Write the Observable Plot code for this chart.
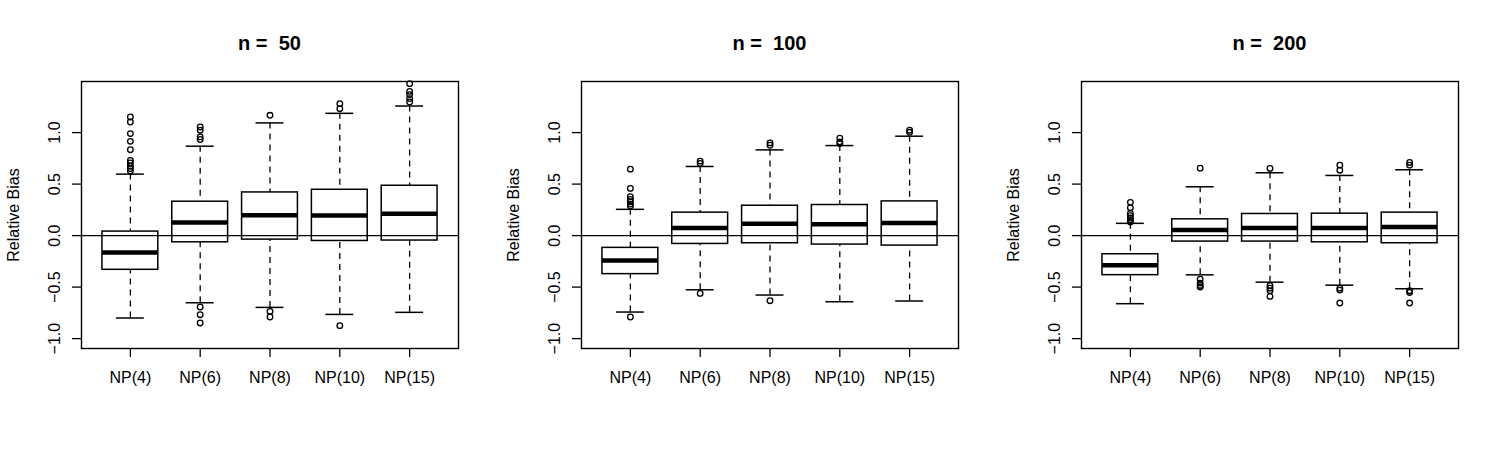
<!DOCTYPE html>
<html>
<head>
<meta charset="utf-8">
<script src="https://cdn.jsdelivr.net/npm/d3@7"></script>
<script src="https://cdn.jsdelivr.net/npm/@observablehq/plot@0.6"></script>
<style>
  html, body { margin: 0; padding: 0; background: #fff; }
  body { font-family: "Liberation Sans", Arial, Helvetica, sans-serif; color: #000; }
  #row { display: flex; width: 1500px; height: 450px; overflow: hidden; }
  .panel { width: 500px; height: 450px; position: relative; }
  .title { position: absolute; top: 31px; left: 81px; width: 377px; text-align: center;
           font-weight: bold; font-size: 20px; line-height: 24px; white-space: pre; }
  .chart { position: absolute; top: 60px; left: 0; }
</style>
</head>
<body>
<div id="row"></div>
<script>
// ---- data ----
const categories = ["NP(4)", "NP(6)", "NP(8)", "NP(10)", "NP(15)"];
const sampleSizes = [50, 100, 200];
const yTicks = [-1, -0.5, 0, 0.5, 1];

// one row per panel (n = 50, 100, 200), one value per category
const lowerWhisker = [
  [-0.800, -0.652, -0.697, -0.765, -0.745],
  [-0.742, -0.526, -0.577, -0.642, -0.635],
  [-0.661, -0.381, -0.452, -0.481, -0.516]
];
const q1 = [
  [-0.332, -0.065, -0.039, -0.052, -0.048],
  [-0.374, -0.081, -0.074, -0.087, -0.097],
  [-0.384, -0.058, -0.058, -0.065, -0.074]
];
const median = [
  [-0.165, 0.126, 0.197, 0.194, 0.213],
  [-0.242, 0.074, 0.116, 0.110, 0.123],
  [-0.287, 0.055, 0.074, 0.074, 0.084]
];
const q3 = [
  [0.039, 0.329, 0.419, 0.445, 0.484],
  [-0.119, 0.223, 0.290, 0.297, 0.332],
  [-0.181, 0.158, 0.210, 0.213, 0.223]
];
const upperWhisker = [
  [0.597, 0.868, 1.094, 1.187, 1.258],
  [0.255, 0.671, 0.832, 0.874, 0.965],
  [0.119, 0.474, 0.610, 0.584, 0.639]
];
const outliers = [
  [
    [1.152, 1.103, 0.990, 0.915, 0.834, 0.730, 0.705, 0.673, 0.651, 0.627],
    [1.055, 1.023, 0.958, 0.933, -0.693, -0.768, -0.848],
    [1.168, -0.736, -0.790],
    [1.281, 1.232, -0.874],
    [1.475, 1.400, 1.369, 1.330, 1.297]
  ],
  [
    [0.645, 0.458, 0.377, 0.352, 0.329, 0.306, 0.287, -0.790],
    [0.723, 0.700, -0.561],
    [0.900, 0.877, -0.632],
    [0.945, 0.910, 0.894],
    [1.023, 1.003]
  ],
  [
    [0.323, 0.271, 0.216, 0.194, 0.171, 0.152, 0.132],
    [0.655, -0.423, -0.461, -0.484, -0.500],
    [0.652, -0.487, -0.510, -0.535, -0.590],
    [0.684, 0.635, -0.510, -0.529, -0.655],
    [0.710, 0.684, -0.535, -0.552, -0.655]
  ]
];
const yLimits = [-1, 1.4];

// ---- drawing ----
const row = document.getElementById("row");
const ext = (yLimits[1] - yLimits[0]) * 0.04;
const yDomain = [yLimits[0] - ext, yLimits[1] + ext];
const xDomain = [0.5 - 5 * 0.04, 5.5 + 5 * 0.04];
const fontFamily = '"Liberation Sans", Arial, Helvetica, sans-serif';

sampleSizes.forEach((n, p) => {
  const boxes = categories.map((c, i) => ({
    cat: c, pos: i + 1,
    lw: lowerWhisker[p][i], q1: q1[p][i], med: median[p][i], q3: q3[p][i], uw: upperWhisker[p][i]
  }));
  const pts = [];
  categories.forEach((c, i) => outliers[p][i].forEach(v => pts.push({cat: c, pos: i + 1, v})));

  const panel = document.createElement("div");
  panel.className = "panel";
  const title = document.createElement("div");
  title.className = "title";
  title.textContent = "n =  " + n;
  panel.appendChild(title);

  const chart = Plot.plot({
    width: 500,
    height: 390,
    marginLeft: 81,
    marginRight: 42,
    marginTop: 21,
    marginBottom: 102,
    style: {fontSize: "16px", fontFamily, color: "#000", background: "#fff", overflow: "visible"},
    x: {type: "linear", domain: xDomain},
    y: {domain: yDomain},
    marks: [
      // whiskers (dashed)
      Plot.ruleX(boxes, {x: "pos", y1: "lw", y2: "q1", stroke: "#000", strokeWidth: 1.3, strokeDasharray: "6,5"}),
      Plot.ruleX(boxes, {x: "pos", y1: "uw", y2: "q3", stroke: "#000", strokeWidth: 1.3, strokeDasharray: "6,5"}),
      // staples
      Plot.ruleY(boxes, {y: "lw", x1: d => d.pos - 0.2, x2: d => d.pos + 0.2, stroke: "#000", strokeWidth: 1.5}),
      Plot.ruleY(boxes, {y: "uw", x1: d => d.pos - 0.2, x2: d => d.pos + 0.2, stroke: "#000", strokeWidth: 1.5}),
      // boxes
      Plot.rect(boxes, {x1: d => d.pos - 0.4, x2: d => d.pos + 0.4, y1: "q1", y2: "q3", fill: "#fff", stroke: "#000", strokeWidth: 1.5}),
      // medians
      Plot.ruleY(boxes, {y: "med", x1: d => d.pos - 0.4, x2: d => d.pos + 0.4, stroke: "#000", strokeWidth: 4.5}),
      // outliers
      Plot.dot(pts, {x: "pos", y: "v", r: 2.8, stroke: "#000", strokeWidth: 1.3, fill: "none"}),
      // reference line at 0
      Plot.ruleY([0], {stroke: "#000", strokeWidth: 1.3}),
      Plot.frame({stroke: "#000", strokeWidth: 1.4}),
      Plot.axisX({ticks: [1, 2, 3, 4, 5], tickFormat: d => categories[d - 1], tickSize: 9, tickPadding: 14, strokeWidth: 1.3, label: null}),
      Plot.axisY({ticks: yTicks, tickFormat: d3.format(".1f"), tickSize: 9, tickPadding: 13, tickRotate: -90, strokeWidth: 1.3,
                  label: "Relative Bias", labelAnchor: "center", labelArrow: "none", labelOffset: 74})
    ]
  });
  chart.classList.add("chart");
  panel.appendChild(chart);
  row.appendChild(panel);
});
</script>
</body>
</html>
